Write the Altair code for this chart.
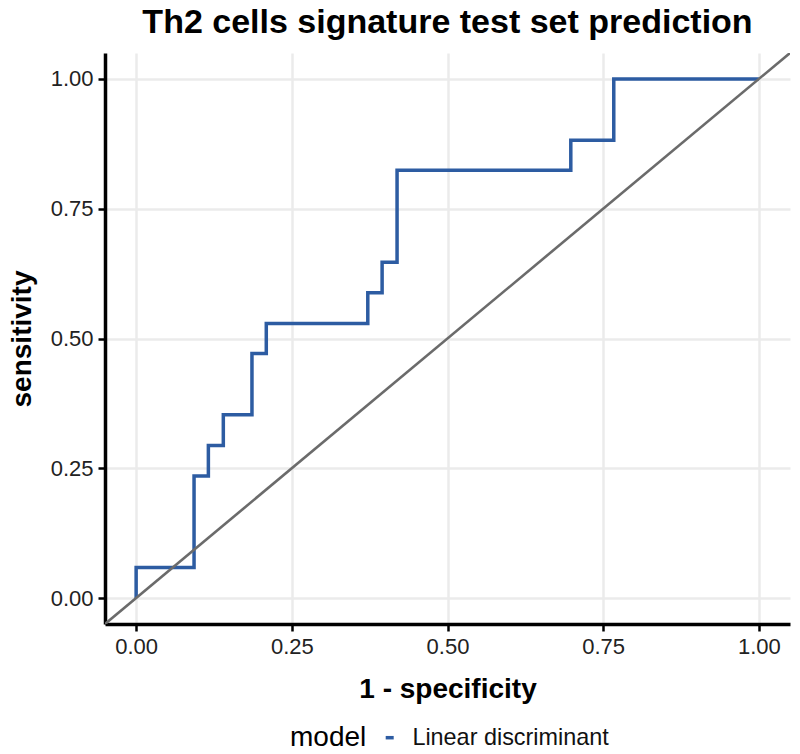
import altair as alt
import pandas as pd

# ROC curve points (1 - specificity, sensitivity)
fpr = [0.000, 0.000, 0.093, 0.116, 0.140, 0.186, 0.209, 0.372, 0.395, 0.419, 0.698, 0.767, 1.000]
tpr = [0.000, 0.059, 0.235, 0.294, 0.353, 0.471, 0.529, 0.588, 0.647, 0.824, 0.882, 1.000, 1.000]
model = "Linear discriminant"

# axis limits (the reference line spans the whole panel)
limits = [-0.05, 1.05]
ticks = [0.0, 0.25, 0.5, 0.75, 1.0]

roc = pd.DataFrame({"fpr": fpr, "tpr": tpr, "order": list(range(len(fpr))), "model": model})
diag = pd.DataFrame({"fpr": limits, "tpr": limits})

xscale = alt.Scale(domain=limits, nice=False, zero=False)
yscale = alt.Scale(domain=limits, nice=False, zero=False)

xaxis = alt.Axis(values=ticks, format=".2f", title="1 - specificity",
                 titleY=73, titleBaseline="alphabetic")
yaxis = alt.Axis(values=ticks, format=".2f", title="sensitivity",
                 titleX=-75, titleBaseline="alphabetic")

line = alt.Chart(roc).mark_line(interpolate="step-after", strokeWidth=3.5, clip=True).encode(
    x=alt.X("fpr:Q", scale=xscale, axis=xaxis),
    y=alt.Y("tpr:Q", scale=yscale, axis=yaxis),
    order="order:Q",
    color=alt.Color("model:N", scale=alt.Scale(domain=[model], range=["#2D5CA2"]),
                    legend=alt.Legend(title="model", orient="none", direction="horizontal",
                                      legendX=185, legendY=673, titleOrient="left",
                                      symbolType="stroke", symbolSize=64, symbolStrokeWidth=3.5,
                                      titleFontSize=28, titleFontWeight="normal", titleColor="#000000",
                                      titlePadding=11, labelFontSize=23.4, labelColor="#111111",
                                      labelOffset=11, labelLimit=400,
                                      titleBaseline="middle", labelBaseline="middle",
                                      padding=0)),
)

ref = alt.Chart(diag).mark_line(color="#6B6B6B", strokeWidth=2.6, clip=True).encode(
    x=alt.X("fpr:Q", scale=xscale),
    y=alt.Y("tpr:Q", scale=yscale),
)

chart = (
    alt.layer(line, ref)
    .properties(
        width=685, height=571,
        title=alt.TitleParams("Th2 cells signature test set prediction", fontSize=34,
                              fontWeight="bold", anchor="middle", frame="group",
                              baseline="alphabetic", offset=14, dy=28, color="#000000"),
        autosize=alt.AutoSizeParams(type="none"),
        padding={"left": 97, "top": 45, "right": 2, "bottom": 130},
    )
    .configure(font="Liberation Sans", background="white")
    .configure_view(stroke=None)
    .configure_axis(
        domainColor="#000000", domainWidth=3.5,
        tickColor="#000000", tickWidth=2.5, tickSize=7,
        gridColor="#EBEBEB", gridWidth=2.5,
        labelFontSize=22, labelColor="#222222", labelPadding=5,
        titleFontSize=28, titleFontWeight="bold", titleColor="#000000",
    )
)

chart.save("out.html", embed_options={"renderer": "svg", "actions": False})
